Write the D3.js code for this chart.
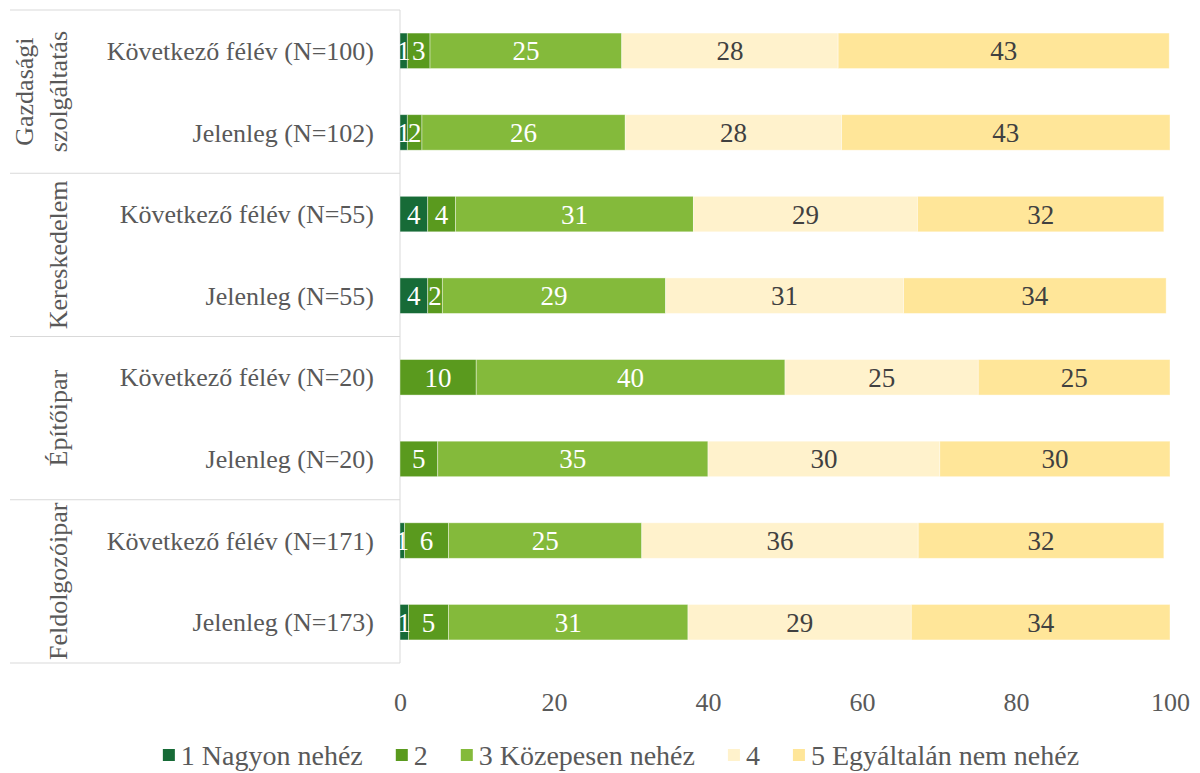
<!DOCTYPE html>
<html>
<head>
<meta charset="utf-8">
<script src="https://d3js.org/d3.v7.min.js"></script>
<style>
    body { margin: 0; background: #fff; }
    svg text { font-family: "Palatino Linotype", "Book Antiqua", Palatino, "Liberation Serif", serif; }
    .axis-line { stroke: #d9d9d9; stroke-width: 1; }
    .cat text { fill: #595959; font-size: 26px; }
    .tick text { fill: #595959; font-size: 26px; }
    .legend text { fill: #595959; font-size: 28px; }
    .lbl { font-size: 27px; }
</style>
</head>
<body>
<svg class="chart" width="1200" height="773"></svg>
<script>
    // categories
    let groups = ["Gazdasági szolgáltatás", "Kereskedelem", "Építőipar", "Feldolgozóipar"];
    let groupLines = [["Gazdasági", "szolgáltatás"], ["Kereskedelem"], ["Építőipar"], ["Feldolgozóipar"]];
    let rowLabels = ["Következő félév (N=100)", "Jelenleg (N=102)",
                     "Következő félév (N=55)", "Jelenleg (N=55)",
                     "Következő félév (N=20)", "Jelenleg (N=20)",
                     "Következő félév (N=171)", "Jelenleg (N=173)"];
    let rowGroup = [0, 0, 1, 1, 2, 2, 3, 3];

    // series (percent)
    let seriesNames = ["1 Nagyon nehéz", "2", "3 Közepesen nehéz", "4", "5 Egyáltalán nem nehéz"];
    let s1 = [0.95, 0.95, 3.6, 3.6, 0, 0, 0.6, 1.1];
    let s2 = [2.95, 1.9, 3.6, 1.9, 9.9, 4.9, 5.7, 5.2];
    let s3 = [24.9, 26.4, 30.9, 29.0, 40.1, 35.1, 25.1, 31.1];
    let s4 = [28.1, 28.1, 29.1, 30.9, 25.1, 30.1, 35.9, 29.0];
    let s5 = [43.0, 42.65, 32.0, 34.1, 24.9, 29.9, 31.9, 33.6];

    let xTicks = [0, 20, 40, 60, 80, 100];

    let colors = ["#176b37", "#5a9a1e", "#84ba3b", "#fff2cc", "#ffe699"];
    let labelColors = ["#fff", "#fff", "#fff", "#404040", "#404040"];

    let svg = d3.select(".chart");

    let rows = rowLabels.map((r, i) => ({
        row: i, s0: s1[i], s1: s2[i], s2: s3[i], s3: s4[i], s4: s5[i]
    }));
    let keys = ["s0", "s1", "s2", "s3", "s4"];
    let stacked = d3.stack().keys(keys)(rows);

    let x = d3.scaleLinear().domain([0, 100]).range([400, 1170]);
    let y = d3.scaleBand()
        .domain(d3.range(rowLabels.length))
        .range([10, 663])
        .paddingInner(0.565)
        .paddingOuter(0.2825);

    let step = y.step();
    let top0 = 10;

    // category frame lines
    let frame = svg.append("g");
    let bounds = [0, 2, 4, 6, 8];
    frame.selectAll("line.h")
        .data(bounds)
        .enter().append("line")
        .attr("class", "axis-line")
        .attr("x1", 10).attr("x2", x(0))
        .attr("y1", d => top0 + d * step)
        .attr("y2", d => top0 + d * step);
    frame.append("line")
        .attr("class", "axis-line")
        .attr("x1", x(0)).attr("x2", x(0))
        .attr("y1", top0).attr("y2", top0 + 8 * step);

    // bars
    let layer = svg.append("g").selectAll("g")
        .data(stacked)
        .enter().append("g")
        .attr("fill", (d, i) => colors[i]);

    layer.selectAll("rect")
        .data(d => d)
        .enter().append("rect")
        .attr("x", d => x(d[0]))
        .attr("y", d => y(d.data.row))
        .attr("width", d => x(d[1]) - x(d[0]))
        .attr("height", y.bandwidth())
        .attr("stroke", "#fff")
        .attr("stroke-opacity", 0.5)
        .attr("stroke-width", 0.8);

    // value labels
    stacked.forEach((ser, si) => {
        svg.append("g").selectAll("text")
            .data(ser.filter(d => d[1] - d[0] > 0))
            .enter().append("text")
            .attr("class", "lbl")
            .attr("x", d => (x(d[0]) + x(d[1])) / 2)
            .attr("y", d => y(d.data.row) + y.bandwidth() / 2)
            .attr("dy", "0.35em")
            .attr("text-anchor", "middle")
            .attr("fill", labelColors[si])
            .text(d => Math.round(d[1] - d[0]));
    });

    // inner category labels
    let cat = svg.append("g").attr("class", "cat");
    cat.selectAll("text.row")
        .data(rowLabels)
        .enter().append("text")
        .attr("x", 374)
        .attr("y", (d, i) => y(i) + y.bandwidth() / 2)
        .attr("dy", "0.35em")
        .attr("text-anchor", "end")
        .text(d => d);

    // group labels (rotated)
    groupLines.forEach((lines, gi) => {
        let cy = top0 + (gi * 2 + 1) * step;
        lines.forEach((ln, li) => {
            let bx = 67 - (lines.length - 1 - li) * 34;
            cat.append("text")
                .attr("transform", "translate(" + bx + "," + cy + ") rotate(-90)")
                .attr("text-anchor", "middle")
                .text(ln);
        });
    });

    // x axis
    let xAxis = svg.append("g")
        .attr("transform", "translate(0,663)")
        .call(d3.axisBottom(x).tickValues(xTicks).tickSize(0).tickPadding(30));
    xAxis.select(".domain").remove();
    xAxis.selectAll("text").attr("font-size", null);

    // legend
    let legend = svg.append("g").attr("class", "legend");
    let items = legend.selectAll("g")
        .data(seriesNames)
        .enter().append("g");
    items.append("rect")
        .attr("width", 12).attr("height", 12)
        .attr("y", 749)
        .attr("fill", (d, i) => colors[i]);
    items.append("text")
        .attr("x", 18)
        .attr("y", 755)
        .attr("dy", "0.35em")
        .text(d => d);

    let widths = [];
    items.each(function() {
        widths.push(18 + d3.select(this).select("text").node().getComputedTextLength());
    });
    let gap = 33;
    let total = d3.sum(widths) + gap * (widths.length - 1);
    let lx = 621 - total / 2;
    items.attr("transform", (d, i) => {
        let t = "translate(" + lx + ",0)";
        lx += widths[i] + gap;
        return t;
    });
</script>
</body>
</html>
